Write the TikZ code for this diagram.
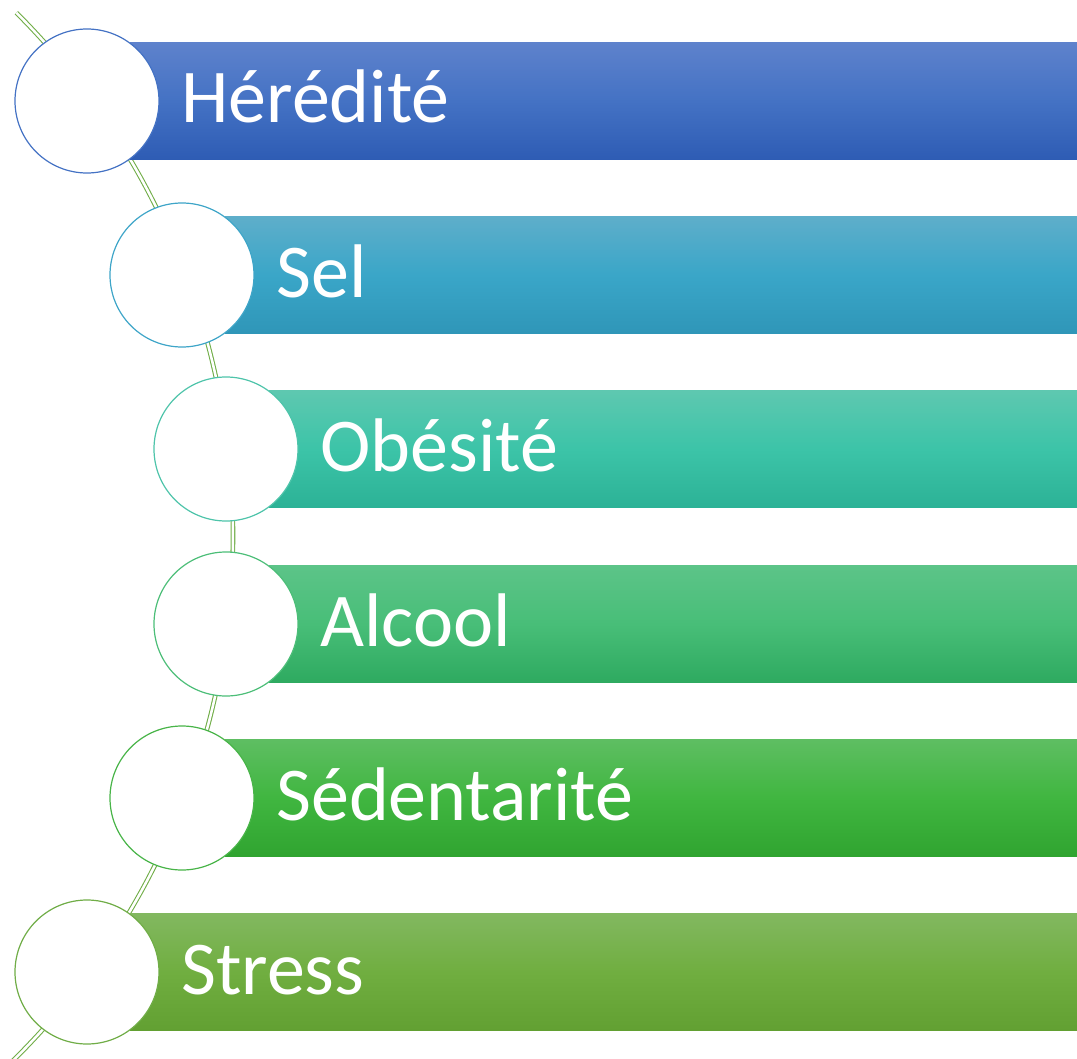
\documentclass[tikz,border=0pt]{standalone}
\usepackage{fontspec}
\setmainfont{Carlito}
\definecolor{bAt}{RGB}{94,130,204}\definecolor{bAm}{RGB}{68,114,196}\definecolor{bAb}{RGB}{46,92,180}
\definecolor{bBt}{RGB}{94,174,202}\definecolor{bBm}{RGB}{58,166,200}\definecolor{bBb}{RGB}{47,150,184}
\definecolor{bCt}{RGB}{94,200,176}\definecolor{bCm}{RGB}{60,196,168}\definecolor{bCb}{RGB}{44,178,150}
\definecolor{bDt}{RGB}{92,196,136}\definecolor{bDm}{RGB}{72,190,120}\definecolor{bDb}{RGB}{46,170,96}
\definecolor{bEt}{RGB}{94,190,98}\definecolor{bEm}{RGB}{64,182,64}\definecolor{bEb}{RGB}{48,164,48}
\definecolor{bFt}{RGB}{130,184,96}\definecolor{bFm}{RGB}{112,174,64}\definecolor{bFb}{RGB}{98,160,50}
\definecolor{cA}{RGB}{68,114,196}\definecolor{cB}{RGB}{62,165,200}\definecolor{cC}{RGB}{78,196,170}
\definecolor{cD}{RGB}{76,190,120}\definecolor{cE}{RGB}{72,180,72}\definecolor{cF}{RGB}{112,173,71}
\definecolor{linegreen}{RGB}{112,173,71}
\tikzset{
  disc/.style={circle, draw, fill=white, line width=0.9pt, minimum size=108pt, inner sep=0pt},
  lbl/.style={anchor=base west, text=white, font=\fontsize{57}{60}\selectfont, inner sep=0pt},
  spine/.style={draw=linegreen, double=white, double distance=1.9pt, line width=0.8pt}
}
\begin{document}
\begin{tikzpicture}[x=0.75pt,y=-0.75pt]
\useasboundingbox (0,0) rectangle (1077,1059);
% spine arc
\draw[spine] plot[domain=-45.05:46.5, samples=120, smooth] ({-505+738*cos(\x)},{535+738*sin(\x)});
% bars
\def\bars{87/101/A/Hérédité, 182/275/B/Sel, 226/449/C/Obésité, 226/624/D/Alcool, 182/798/E/Sédentarité, 87/972/F/Stress}
\foreach \cx/\cy/\k/\t in \bars {
  \shade[top color=b\k t, bottom color=b\k b, middle color=b\k m] (\cx+43,\cy-58.5) rectangle (1077,\cy+58.5);
  \node[disc, draw=c\k] (circ\k) at (\cx,\cy) {};
  \node[lbl] (lab\k) at (\cx+94,\cy+22) {\t};
}
\end{tikzpicture}
\end{document}
